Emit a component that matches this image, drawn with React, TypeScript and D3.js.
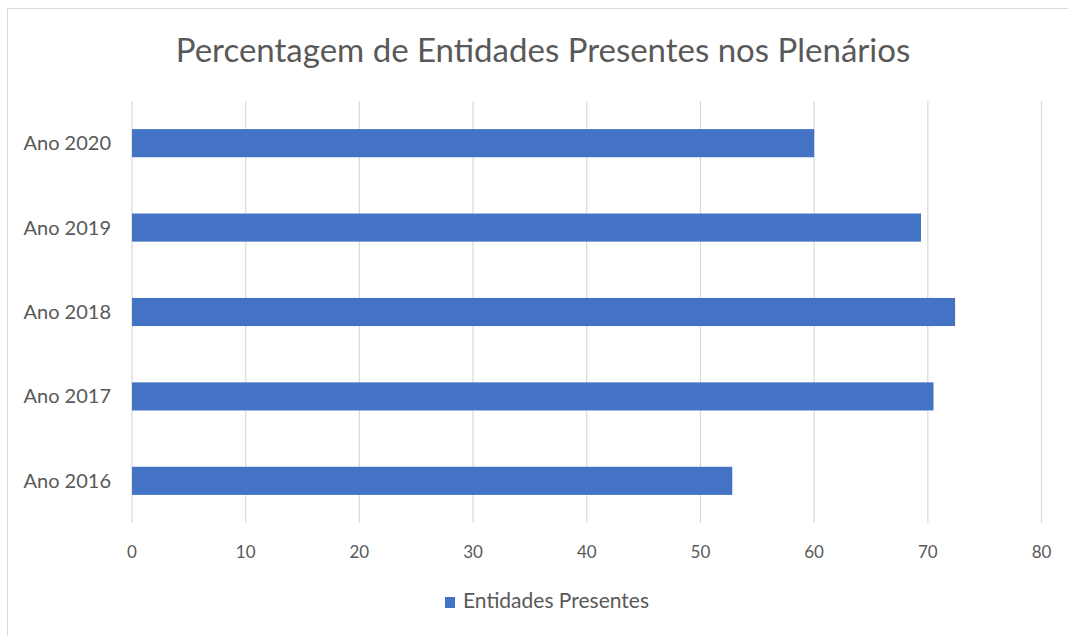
import React, { useRef, useEffect } from "react"
import * as d3 from "d3"

// Data
const years = ["Ano 2016", "Ano 2017", "Ano 2018", "Ano 2019", "Ano 2020"]
const presentes = [52.8, 70.5, 72.4, 69.4, 60]
const xTicks = [0, 10, 20, 30, 40, 50, 60, 70, 80]
const title = "Percentagem de Entidades Presentes nos Plenários"
const seriesName = "Entidades Presentes"

const width = 1068
const height = 636
const font = "Lato, 'Open Sans', sans-serif"
const textColor = "#595959"
const barColor = "#4472C4"
const gridColor = "#d9d9d9"

const App: React.FC = () => {
  const svgRef = useRef<SVGSVGElement | null>(null)

  useEffect(() => {
    const svg = d3.select(svgRef.current)
    svg.selectAll("*").remove()

    const margin = { top: 101, right: 26.5, bottom: 113, left: 132 }

    const xScale = d3.scaleLinear()
      .domain([0, 80])
      .range([margin.left, width - margin.right])

    // top-to-bottom: 2020 first
    const yScale = d3.scaleBand<string>()
      .domain([...years].reverse())
      .range([margin.top, height - margin.bottom])
      .paddingInner(0.667)
      .paddingOuter(0.333)

    // chart area border
    svg.append("rect")
      .attr("x", 7.5)
      .attr("y", 8.5)
      .attr("width", width)
      .attr("height", height)
      .attr("fill", "#fff")
      .attr("stroke", gridColor)

    // title
    svg.append("text")
      .attr("x", 543)
      .attr("y", 61.5)
      .attr("text-anchor", "middle")
      .attr("font-family", font)
      .attr("font-size", 33)
      .attr("fill", textColor)
      .text(title)

    // GRIDLINES
    svg.append("g")
      .selectAll("line")
      .data(xTicks)
      .enter()
      .append("line")
      .attr("x1", d => xScale(d))
      .attr("x2", d => xScale(d))
      .attr("y1", margin.top)
      .attr("y2", height - margin.bottom)
      .attr("stroke", gridColor)
      .attr("stroke-width", 1.2)

    // X AXIS LABELS
    svg.append("g")
      .selectAll("text")
      .data(xTicks)
      .enter()
      .append("text")
      .attr("x", d => xScale(d))
      .attr("y", 558)
      .attr("text-anchor", "middle")
      .attr("font-family", font)
      .attr("font-size", 17)
      .attr("fill", textColor)
      .text(d => d3.format("d")(d))

    // CATEGORY LABELS
    svg.append("g")
      .selectAll("text")
      .data(years)
      .enter()
      .append("text")
      .attr("x", margin.left - 21)
      .attr("y", d => (yScale(d) as number) + yScale.bandwidth() / 2)
      .attr("dy", "0.35em")
      .attr("text-anchor", "end")
      .attr("font-family", font)
      .attr("font-size", 20)
      .attr("fill", textColor)
      .text(d => d)

    // BARS
    svg.append("g")
      .selectAll("rect")
      .data(years)
      .enter()
      .append("rect")
      .attr("x", xScale(0))
      .attr("y", d => yScale(d) as number)
      .attr("width", (_d, i) => xScale(presentes[i]) - xScale(0))
      .attr("height", yScale.bandwidth())
      .attr("fill", barColor)

    // LEGEND
    const legend = svg.append("g")
    legend.append("rect")
      .attr("x", 445)
      .attr("y", 597)
      .attr("width", 10)
      .attr("height", 11)
      .attr("fill", barColor)
    legend.append("text")
      .attr("x", 463)
      .attr("y", 608)
      .attr("font-family", font)
      .attr("font-size", 21)
      .attr("fill", textColor)
      .text(seriesName)
  }, [])

  return (
    <svg
      ref={svgRef}
      width={width}
      height={height}
      style={{ position: "absolute", left: 0, top: 0, background: "#fff" }}
    ></svg>
  )
}

export default App
